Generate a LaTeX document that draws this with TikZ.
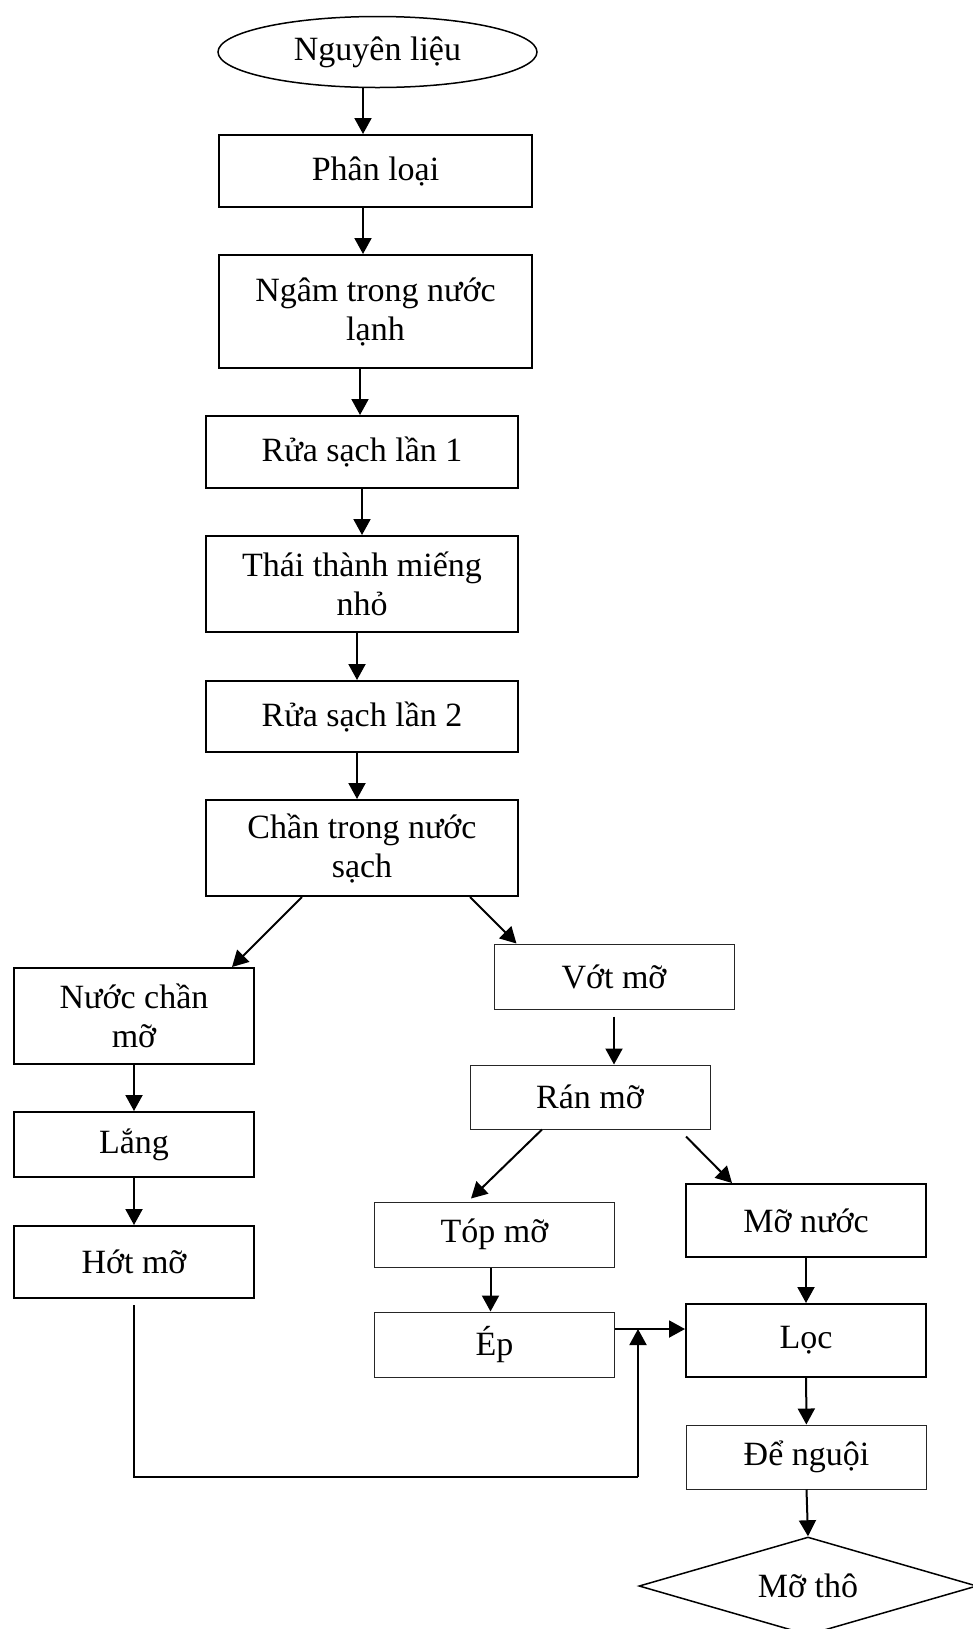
\documentclass[tikz,border=0pt]{standalone}
\usepackage{fontspec}
\setmainfont{Liberation Serif}
\usetikzlibrary{arrows.meta,positioning,calc,shapes.geometric}

\begin{document}
\begin{tikzpicture}[x=0.5pt,y=-0.5pt,>={Triangle[width=8.5pt,length=8pt]},
  box/.style={draw=black,line width=1pt,align=center,inner sep=2pt,font=\fontsize{17}{19.5}\selectfont,minimum width=120pt,minimum height=32.5pt},
  thinbox/.style={box,draw=black!85,line width=.5pt},
  flow/.style={->,line width=1pt,draw=black},
  feedline/.style={line width=1pt,draw=black}]
\useasboundingbox (0,0) rectangle (973,1629);
% main column
\node[box,ellipse,line width=.75pt,minimum width=159.5pt,minimum height=35.5pt] (nl) at (377.5,52) {Nguyên liệu};
\node[box,minimum width=156.5pt,minimum height=36pt] (pl) at (375.5,171) {Phân loại};
\node[box,minimum width=156.5pt,minimum height=56.5pt] (ngam) at (375.5,311.5) {Ngâm trong nước\\lạnh};
\node[box,minimum width=156pt,minimum height=36pt] (rua1) at (362,452) {Rửa sạch lần 1};
\node[box,minimum width=156pt,minimum height=48pt] (thai) at (362,584) {Thái thành miếng\\nhỏ};
\node[box,minimum width=156pt,minimum height=35.5pt] (rua2) at (362,716.5) {Rửa sạch lần 2};
\node[box,minimum width=156pt,minimum height=48pt] (chan) at (362,848) {Chần trong nước\\sạch};
\draw[flow] ([xshift=-7.25pt]nl.south) -- ([xshift=-7.25pt]nl.south |- pl.north);
\draw[flow] ([xshift=-6.25pt]pl.south) -- ([xshift=-6.25pt]pl.south |- ngam.north);
\draw[flow] ([xshift=-1pt]rua1.north |- ngam.south) -- ([xshift=-1pt]rua1.north);
\draw[flow] (rua1) -- (thai);
\draw[flow] ([xshift=-2.5pt]thai.south) -- ([xshift=-2.5pt]rua2.north);
\draw[flow] ([xshift=-2.5pt]rua2.south) -- ([xshift=-2.5pt]chan.north);
% left branch
\node[box,minimum height=48pt] (nuoc) at (134,1016) {Nước chần\\mỡ};
\node[box] (lang) at (134,1144.5) {Lắng};
\node[box,minimum height=36pt] (hot) at (134,1262) {Hớt mỡ};
\draw[flow] ($(chan.south)+(-60,0)$) -- ($(nuoc.north east)+(-23,0)$);
\draw[flow] (nuoc) -- (lang);
\draw[flow] (lang) -- (hot);
% right branch
\node[thinbox] (vot) at (614,976.5) {Vớt mỡ};
\node[thinbox,minimum height=32pt] (ran) at (590,1097) {Rán mỡ};
\node[thinbox] (top) at (494.5,1234.5) {Tóp mỡ};
\node[thinbox] (ep) at (494.5,1344.5) {Ép};
\node[box,minimum height=36.5pt] (monuoc) at (806,1220.5) {Mỡ nước};
\node[box,minimum height=36.5pt] (loc) at (806,1340.5) {Lọc};
\node[thinbox,minimum height=32pt] (nguoi) at (806.5,1457) {Để nguội};
\node[box,diamond,aspect=3.45,line width=.75pt,minimum width=169pt,minimum height=49pt] (tho) at (808,1586) {Mỡ thô};
\draw[flow] ($(chan.south)+(108,0)$) -- ($(vot.north west)+(23,0)$);
\draw[flow] ($(vot.south)+(0,7)$) -- (vot.south |- ran.north);
\draw[flow] ($(ran.south)+(-48,0)$) -- ($(top.north)+(-23.5,-3)$);
\draw[flow] ($(ran.south)+(96,7)$) -- ($(monuoc.north west)+(47,0)$);
\draw[flow] ([xshift=-2pt]top.south) -- ([xshift=-2pt]ep.north);
\draw[flow] (monuoc) -- (loc);
\draw[flow] (loc) -- (nguoi);
\draw[flow] (nguoi.south) -- (tho.north);
% fat from the skimming joins the filter
\coordinate (epout) at ($(ep.east)+(0,-15.5)$);
\coordinate (feed) at (638,1477);
\draw[flow] (epout) -- (epout -| loc.west);
\draw[feedline] ($(hot.south)+(0,6)$) |- (feed);
\draw[flow] (feed) -- (feed |- epout);
\end{tikzpicture}
\end{document}
